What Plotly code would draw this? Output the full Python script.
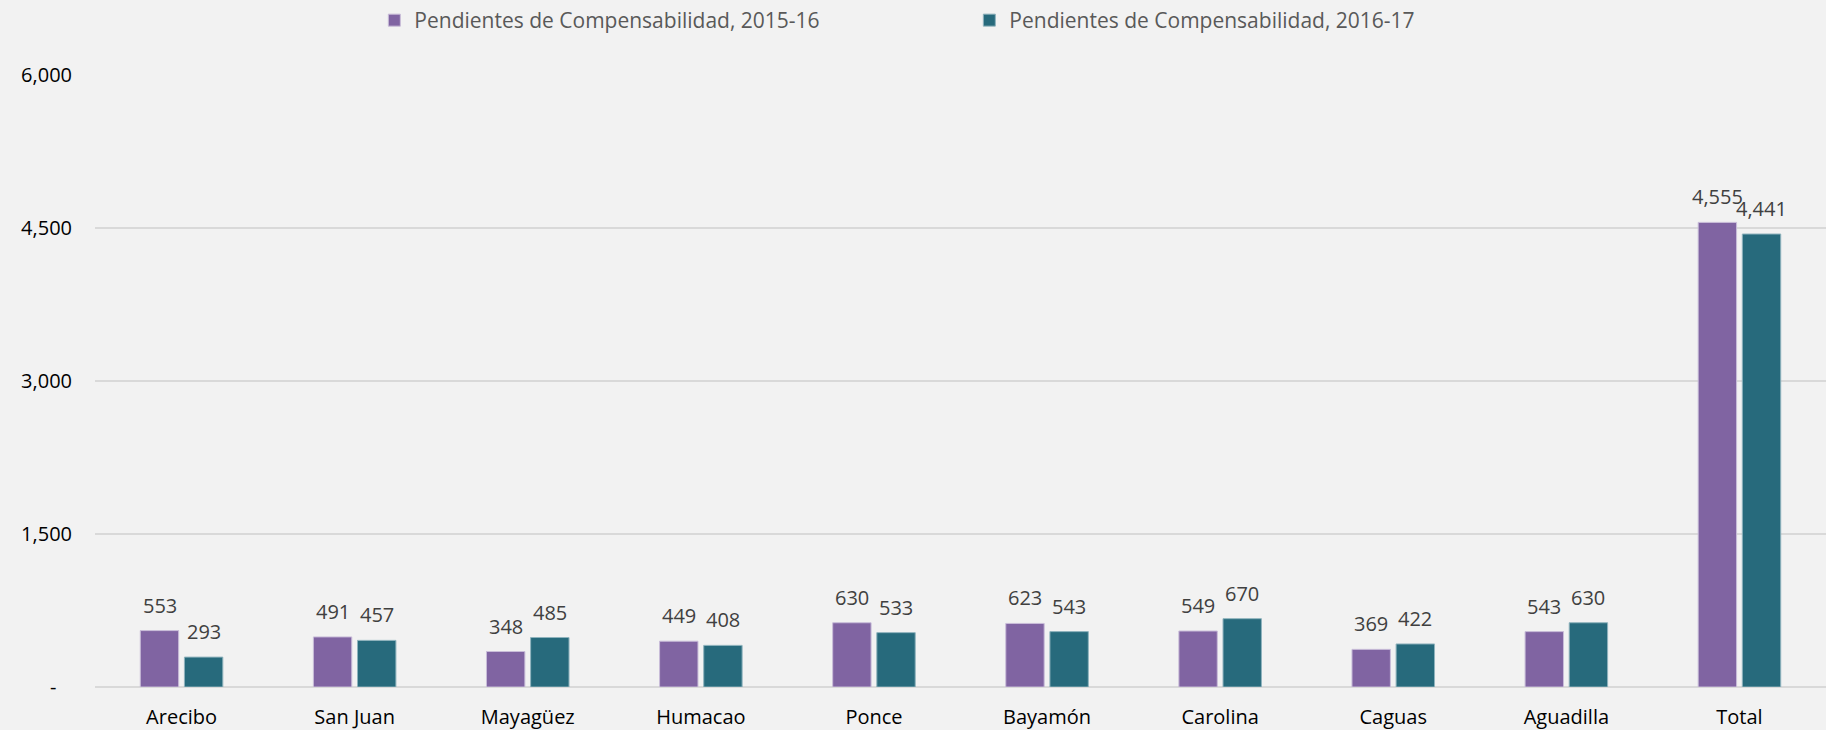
import plotly.graph_objects as go

categories = ["Arecibo", "San Juan", "Mayagüez", "Humacao", "Ponce", "Bayamón",
              "Carolina", "Caguas", "Aguadilla", "Total"]
series_2015 = [553, 491, 348, 449, 630, 623, 549, 369, 543, 4555]
series_2016 = [293, 457, 485, 408, 533, 543, 670, 422, 630, 4441]
name_2015 = "Pendientes de Compensabilidad, 2015-16"
name_2016 = "Pendientes de Compensabilidad, 2016-17"
y_tickvals = [0, 1500, 3000, 4500, 6000]
y_ticktext = ["-\u00a0\u00a0\u00a0", "1,500", "3,000", "4,500", "6,000"]

FONT = "Open Sans"
LABEL_COLOR = "#404040"

fig = go.Figure()
fig.add_trace(go.Bar(
    x=categories, y=series_2015, name=name_2015,
    marker=dict(color="#8064A2", line=dict(color="#C9BDD9", width=1)),
))
fig.add_trace(go.Bar(
    x=categories, y=series_2016, name=name_2016,
    marker=dict(color="#276A7C", line=dict(color="#8FB3BD", width=1)),
))

# data labels placed above each bar
for cat, v in zip(categories, series_2015):
    fig.add_annotation(x=cat, y=v, text=f"{v:,}", showarrow=False,
                       xshift=-22, yanchor="bottom", yshift=10,
                       font=dict(family=FONT, size=20, color=LABEL_COLOR))
for cat, v in zip(categories, series_2016):
    fig.add_annotation(x=cat, y=v, text=f"{v:,}", showarrow=False,
                       xshift=22, yanchor="bottom", yshift=10,
                       font=dict(family=FONT, size=20, color=LABEL_COLOR))

fig.update_layout(
    width=1826, height=730,
    margin=dict(l=95, r=0, t=75, b=43),
    paper_bgcolor="#F2F2F2", plot_bgcolor="#F2F2F2",
    font=dict(family=FONT, size=20, color="#000000"),
    barmode="group", bargap=0.49, bargroupgap=0.13,
    showlegend=True,
    legend=dict(orientation="h", xref="container", yref="container",
                x=0.205, xanchor="left", y=1.0, yanchor="top",
                font=dict(family=FONT, size=21, color="#595959"),
                entrywidth=550, entrywidthmode="pixels",
                bgcolor="rgba(0,0,0,0)", itemclick=False),
)
fig.update_xaxes(showgrid=False, showline=False, ticks="",
                 tickfont=dict(family=FONT, size=20, color="#000000"),
                 ticklabelstandoff=16)
fig.update_yaxes(range=[0, 6000], tickvals=y_tickvals, ticktext=y_ticktext,
                 showgrid=True, gridcolor="#D9D9D9", gridwidth=2,
                 zeroline=True, zerolinecolor="#D9D9D9", zerolinewidth=2,
                 showline=False, ticks="",
                 tickfont=dict(family=FONT, size=20, color="#000000"),
                 ticklabelstandoff=22)

fig.write_html("out.html", config={"displayModeBar": False},
               post_script="document.body.style.margin='0';")
